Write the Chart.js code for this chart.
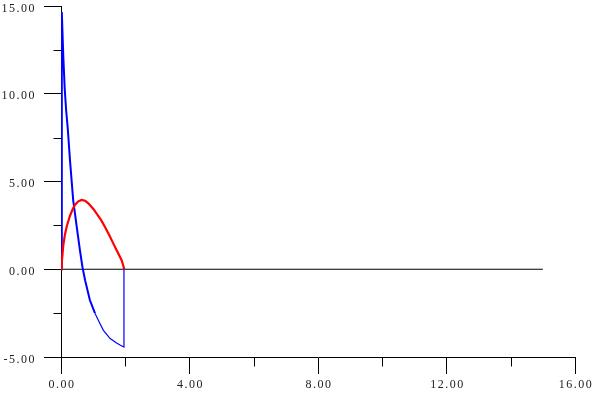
<!DOCTYPE html>
<html>
<head>
<meta charset="utf-8">
<script src="https://cdn.jsdelivr.net/npm/chart.js@4.4.0/dist/chart.umd.min.js"></script>
<style>
  html, body { margin: 0; padding: 0; background: #fff; }
  #wrap { width: 601px; height: 393px; }
</style>
</head>
<body>
<div id="wrap"><canvas id="chart" width="601" height="393"></canvas></div>
<script>
// data
const redX  = [0, 0.02, 0.07, 0.12, 0.18, 0.28, 0.37, 0.44, 0.54, 0.64, 0.75, 0.85, 1.0, 1.11, 1.25, 1.37, 1.5, 1.63, 1.76, 1.89, 1.97];
const redY  = [0, 0.3, 1.35, 1.95, 2.45, 3.05, 3.45, 3.68, 3.87, 3.95, 3.9, 3.76, 3.45, 3.17, 2.8, 2.41, 1.95, 1.46, 0.98, 0.5, 0];
const blueX = [0, 0.025, 0.07, 0.115, 0.16, 0.21, 0.28, 0.38, 0.49, 0.59, 0.67, 0.75, 0.9, 1.06, 1.2, 1.32, 1.53, 1.73, 1.85, 1.96, 1.96];
const blueY = [0, 14.65, 12.2, 10.3, 9.06, 8.03, 6.2, 3.93, 2.41, 1.08, 0.1, -0.63, -1.77, -2.52, -3.05, -3.48, -3.95, -4.2, -4.33, -4.43, 0];
const baseX = [0, 15];
const baseY = [0, 0];
const xMinorTicks = [2, 6, 10, 14];
const yMinorTicks = [12.5, 7.5, 2.5, -2.5];

function pts(xs, ys) {
  return xs.map((x, i) => ({ x: x, y: ys[i] }));
}

/* petits traits secondaires + espacement des chiffres */
const minorTicks = {
  id: "minorTicks",
  beforeDraw(c) {
    c.ctx.letterSpacing = "1.5px";
  },
  afterDraw(c) {
    const ctx = c.ctx;
    const xs = c.scales.x, ys = c.scales.y;
    ctx.save();
    ctx.strokeStyle = "#000";
    ctx.lineWidth = 1;
    ctx.beginPath();
    const left = Math.round(xs.left) + 0.5;
    yMinorTicks.forEach(v => {
      const py = Math.round(ys.getPixelForValue(v)) + 0.5;
      ctx.moveTo(left - 8, py);
      ctx.lineTo(left, py);
    });
    const bottom = Math.round(ys.bottom) + 0.5;
    xMinorTicks.forEach(v => {
      const px = Math.round(xs.getPixelForValue(v)) + 0.5;
      ctx.moveTo(px, bottom);
      ctx.lineTo(px, bottom + 9);
    });
    ctx.stroke();
    ctx.restore();
  }
};

const font = { family: "'Liberation Serif', 'Times New Roman', serif", size: 12 };

new Chart(document.getElementById("chart"), {
  type: "scatter",
  data: {
    datasets: [
      { data: pts(redX, redY), showLine: true, borderColor: "#ff0000", borderWidth: 2.2, pointRadius: 0 },
      {
        data: pts(blueX, blueY), showLine: true, borderColor: "#0000ff", borderWidth: 2, pointRadius: 0,
        segment: { borderWidth: s => (s.p0.parsed.y < -2.4 || s.p1.parsed.x === s.p0.parsed.x) ? 1.2 : 2 }
      },
      { data: pts(baseX, baseY), showLine: true, borderColor: "#000", borderWidth: 1, pointRadius: 0 }
    ]
  },
  options: {
    responsive: false,
    animation: false,
    layout: { padding: { left: 0, top: 6, right: 26, bottom: 0 } },
    plugins: { legend: { display: false }, tooltip: { enabled: false } },
    scales: {
      x: {
        type: "linear", min: 0, max: 16,
        ticks: { stepSize: 4, color: "#222", font: font, padding: 4, maxRotation: 0, labelOffset: 1, callback: v => v.toFixed(2) },
        grid: { drawOnChartArea: false, tickLength: 17, color: "#000" },
        border: { display: true, color: "#000", width: 1 },
        afterFit: s => { s.height = 36; s.paddingLeft = 0; s.paddingRight = 0; }
      },
      y: {
        type: "linear", min: -5, max: 15,
        ticks: { stepSize: 5, color: "#222", font: font, padding: 8, labelOffset: 2.5, callback: v => v.toFixed(2) },
        grid: { drawOnChartArea: false, tickLength: 17, color: "#000" },
        border: { display: true, color: "#000", width: 1 },
        afterFit: s => { s.width = 61; s.paddingTop = 0; s.paddingBottom = 0; }
      }
    }
  },
  plugins: [minorTicks]
});
</script>
</body>
</html>
